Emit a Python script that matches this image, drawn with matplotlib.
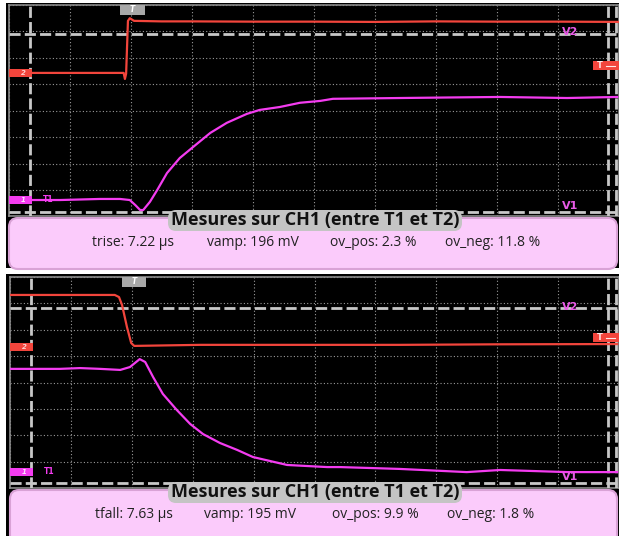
import matplotlib
matplotlib.use("Agg")
import matplotlib.pyplot as plt
from matplotlib.patches import Rectangle, FancyBboxPatch

# ---------------- data (screen divisions: x 0..10, y 0..8) ----------------
top_ch2_x = [0, 1.88, 1.90, 1.92, 1.95, 1.98, 2.05, 2.5, 3.0, 4.0, 5.0, 6.0, 7.0, 8.0, 9.0, 10.0]
top_ch2_y = [5.43, 5.43, 5.20, 5.40, 7.40, 7.50, 7.40, 7.38, 7.38, 7.37, 7.37, 7.36, 7.38, 7.37, 7.37, 7.36]

top_ch1_x = [0, 0.84, 1.49, 1.82, 1.98, 2.07, 2.15, 2.20, 2.31, 2.43, 2.59, 2.80, 3.02,
             3.30, 3.57, 3.90, 4.11, 4.44, 4.77, 5.10, 5.31, 6.41, 7.20, 8.05, 9.15, 9.97]
top_ch1_y = [0.62, 0.62, 0.66, 0.66, 0.62, 0.43, 0.24, 0.24, 0.55, 1.00, 1.64, 2.21, 2.63,
             3.16, 3.54, 3.88, 4.03, 4.14, 4.30, 4.37, 4.45, 4.48, 4.50, 4.52, 4.48, 4.52]

bot_ch2_x = [0, 1.72, 1.79, 1.84, 1.92, 1.99, 2.04, 3.12, 5.0, 6.40, 8.0, 9.97]
bot_ch2_y = [7.32, 7.32, 7.24, 6.94, 6.11, 5.50, 5.39, 5.43, 5.43, 5.43, 5.45, 5.46]

bot_ch1_x = [0, 0.82, 1.15, 1.48, 1.81, 1.97, 2.13, 2.22, 2.35, 2.51, 2.74, 2.96, 3.17,
             3.45, 3.73, 3.99, 4.27, 4.55, 4.88, 5.21, 5.42, 6.40, 7.50, 8.05, 9.15, 9.97]
bot_ch1_y = [4.52, 4.52, 4.55, 4.52, 4.48, 4.59, 4.89, 4.78, 4.21, 3.57, 2.96, 2.43, 2.05,
             1.71, 1.45, 1.18, 1.03, 0.88, 0.84, 0.80, 0.80, 0.73, 0.61, 0.69, 0.61, 0.61]

panel_title = "Mesures sur CH1 (entre T1 et T2)"
top_labels = ["trise: 7.22 µs", "vamp: 196 mV", "ov_pos: 2.3 %", "ov_neg: 11.8 %"]
bot_labels = ["tfall: 7.63 µs", "vamp: 195 mV", "ov_pos: 9.9 %", "ov_neg: 1.8 %"]

# ---------------- figure ----------------
W, H = 619, 536
fig = plt.figure(figsize=(W / 100, H / 100), dpi=100)
fig.patch.set_facecolor("white")

RED = "#f2453c"
MAG = "#f43cf0"
PINK = "#fbcbfb"
PINK_EDGE = "#d9a2d6"
GRAY = "#c4c4c4"
FONT = "Open Sans"


def fig_rect(x0, y0, x1, y1):
    return [x0 / W, 1 - y1 / H, (x1 - x0) / W, (y1 - y0) / H]


# background / decoration layer (pixel coords)
bg = fig.add_axes([0, 0, 1, 1], zorder=0)
bg.set_xlim(0, W)
bg.set_ylim(H, 0)
bg.axis("off")

# overlay layer
ov = fig.add_axes([0, 0, 1, 1], zorder=10)
ov.set_xlim(0, W)
ov.set_ylim(H, 0)
ov.axis("off")
ov.patch.set_alpha(0)

panels = [
    dict(frame=(6, 3, 619, 268), screen=(9, 5, 619, 216.4), pink=(9, 218, 617, 265),
         ch2=(top_ch2_x, top_ch2_y), ch1=(top_ch1_x, top_ch1_y), labels=top_labels,
         t1=0.34, rcur=(9.82, 9.95), v2=6.91, v1=0.17,
         ch2_mark=73, ch1_mark=200, trig_x=(120, 145), tbox_y=61, meas_x=(92, 207, 330, 445)),
    dict(frame=(6, 274, 619, 536), screen=(10, 277, 619, 488.2), pink=(10, 490, 617, 540),
         ch2=(bot_ch2_x, bot_ch2_y), ch1=(bot_ch1_x, bot_ch1_y), labels=bot_labels,
         t1=0.34, rcur=(9.82, 9.95), v2=6.83, v1=0.20,
         ch2_mark=347, ch1_mark=472, trig_x=(122, 146), tbox_y=333, meas_x=(95, 204, 332, 447)),
]

for p in panels:
    fx0, fy0, fx1, fy1 = p["frame"]
    bg.add_patch(Rectangle((fx0, fy0), fx1 - fx0, fy1 - fy0, facecolor="black", edgecolor="none"))
    px0, py0, px1, py1 = p["pink"]
    bg.add_patch(FancyBboxPatch((px0 + 4, py0 + 4), px1 - px0 - 8, py1 - py0 - 4,
                                boxstyle="round,pad=4,rounding_size=9",
                                facecolor=PINK, edgecolor=PINK_EDGE, lw=1.5))

    sx0, sy0, sx1, sy1 = p["screen"]
    ax = fig.add_axes(fig_rect(sx0, sy0, sx1, sy1), zorder=2)
    ax.set_facecolor("black")
    ax.set_xlim(0, 10)
    ax.set_ylim(0, 8)
    ax.set_xticks(range(11))
    ax.set_yticks(range(9))
    ax.tick_params(length=0, labelbottom=False, labelleft=False)
    ax.grid(True, color="#9a9a9a", lw=0.8, ls=(0, (1, 2)))
    for s in ax.spines.values():
        s.set_color("#8a8a8a")
        s.set_linewidth(1.2)

    # cursors
    cur_kw = dict(color="#c8c8c8", lw=2.0, ls=(0, (4, 1.5)), zorder=3)
    ax.axvline(p["t1"], **cur_kw)
    for xc in p["rcur"]:
        ax.axvline(xc, **cur_kw)
    ax.axhline(p["v2"], **cur_kw)
    ax.axhline(p["v1"], **cur_kw)

    # traces
    ax.plot(*p["ch2"], color=RED, lw=1.6, zorder=5, solid_joinstyle="round")
    ax.plot(*p["ch1"], color=MAG, lw=1.6, zorder=5, solid_joinstyle="round")

    # cursor labels
    ax.text(9.2, p["v2"] + 0.05, "V2", color="#e85ae6", fontsize=8, ha="center", va="center",
            fontweight="bold", zorder=6)
    ax.text(9.2, p["v1"] + 0.22, "V1", color="#e85ae6", fontsize=8, ha="center", va="center",
            fontweight="bold", zorder=6)

    # channel markers (overlay, pixel coords)
    ov.add_patch(Rectangle((sx0, p["ch2_mark"] - 4), 23, 8, facecolor=RED, edgecolor="none"))
    ov.text(sx0 + 14, p["ch2_mark"], "2", color="#ffd0d0", fontsize=5, ha="center", va="center",
            fontweight="bold", style="italic")
    ov.add_patch(Rectangle((sx0, p["ch1_mark"] - 4), 23, 8, facecolor=MAG, edgecolor="none"))
    ov.text(sx0 + 14, p["ch1_mark"], "1", color="#ffe0ff", fontsize=5, ha="center", va="center",
            fontweight="bold", style="italic")
    ov.text(sx0 + 39, p["ch1_mark"], "T1", color=MAG, fontsize=5.5, ha="center", va="center",
            fontweight="bold")

    # trigger position marker (top)
    tx0, tx1 = p["trig_x"]
    ov.add_patch(Rectangle((tx0, sy0), tx1 - tx0, 10, facecolor="#a8a8a8", edgecolor="none"))
    ov.text((tx0 + tx1) / 2, sy0 + 5, "T", color="white", fontsize=5.5, ha="center", va="center",
            fontweight="bold", style="italic")

    # trigger level marker (right)
    ov.add_patch(Rectangle((593, p["tbox_y"]), 26, 9, facecolor=RED, edgecolor="none"))
    ov.text(600, p["tbox_y"] + 4.5, "T", color="#ffe8e8", fontsize=6, ha="center", va="center",
            fontweight="bold")
    ov.plot([606, 615], [p["tbox_y"] + 4.5] * 2, color="#ffe8e8", lw=0.8)

    # title box
    ty = py0 + 2
    ov.add_patch(FancyBboxPatch((170, ty - 8), 290, 17, boxstyle="round,pad=2,rounding_size=8",
                                facecolor=GRAY, edgecolor="none"))
    ov.text(315, ty, panel_title, fontsize=13, fontweight="bold", family=FONT,
            ha="center", va="center", color="#111111")

    # measurements
    my = py0 + 25
    for xm, lab in zip(p["meas_x"], p["labels"]):
        ov.text(xm, my, lab, fontsize=10, family=FONT, ha="left", va="center", color="#222222")

fig.savefig("out.png", dpi=100, facecolor="white")
